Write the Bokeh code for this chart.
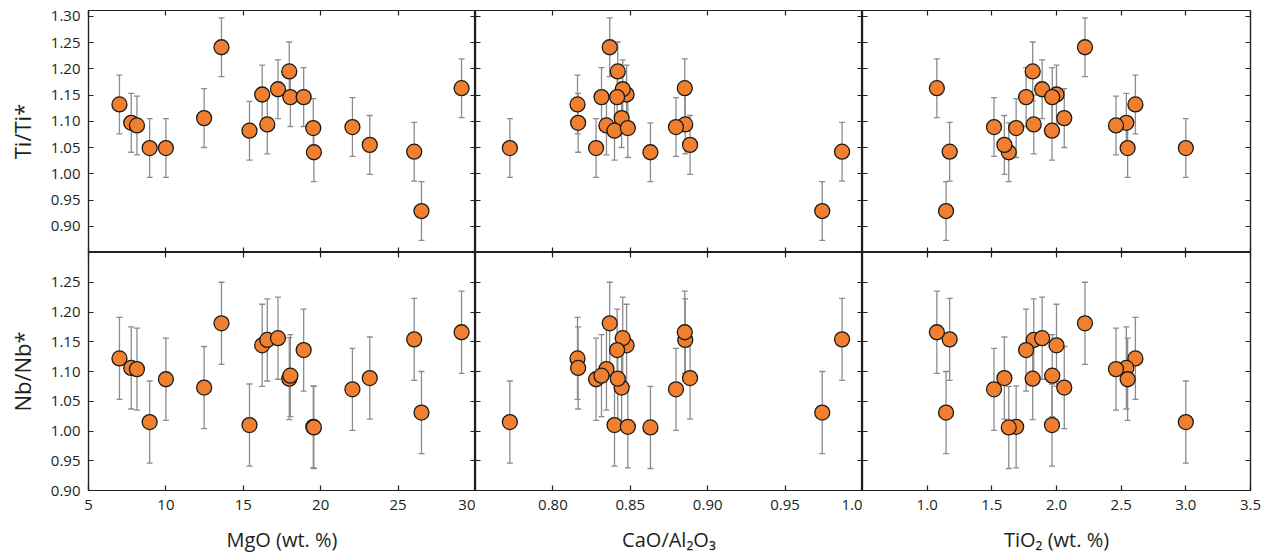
from bokeh.plotting import figure
from bokeh.models import (ColumnDataSource, Whisker, TeeHead, Range1d, LinearAxis,
                          FixedTicker, PrintfTickFormatter)
from bokeh.layouts import column, row
from bokeh.embed import file_html
from bokeh.resources import INLINE

# ---- data (one entry per sample) ----
mgo = [7.00, 7.76, 8.13, 8.95, 10.00, 12.47, 13.59, 15.40, 16.22, 16.55, 17.24,
       17.97, 18.04, 18.90, 19.52, 19.56, 22.05, 23.17, 26.04, 26.51, 29.10]
cao_al2o3 = [0.8159, 0.8163, 0.8346, 0.7722, 0.8279, 0.8444, 0.8367, 0.8398, 0.8476, 0.8855, 0.8451,
             0.8419, 0.8314, 0.8415, 0.8484, 0.8630, 0.8795, 0.8886, 0.9868, 0.9740, 0.8852]
tio2 = [2.61, 2.54, 2.46, 3.00, 2.55, 2.06, 2.22, 1.965, 2.00, 1.824, 1.889,
        1.816, 1.967, 1.765, 1.688, 1.631, 1.517, 1.597, 1.174, 1.146, 1.075]
ti_anom = [1.132, 1.097, 1.092, 1.049, 1.049, 1.106, 1.241, 1.082, 1.151, 1.094, 1.161,
           1.195, 1.146, 1.146, 1.087, 1.041, 1.089, 1.055, 1.042, 0.929, 1.163]
nb_anom = [1.122, 1.106, 1.104, 1.015, 1.087, 1.073, 1.181, 1.010, 1.144, 1.153, 1.156,
           1.088, 1.093, 1.136, 1.007, 1.006, 1.070, 1.089, 1.154, 1.031, 1.166]
ti_err = [0.056, 0.056, 0.056, 0.056, 0.056, 0.056, 0.056, 0.056, 0.056, 0.056, 0.056,
          0.056, 0.056, 0.056, 0.056, 0.056, 0.056, 0.056, 0.056, 0.056, 0.056]
nb_err = [0.069, 0.069, 0.069, 0.069, 0.069, 0.069, 0.069, 0.069, 0.069, 0.069, 0.069,
          0.069, 0.069, 0.069, 0.069, 0.069, 0.069, 0.069, 0.069, 0.069, 0.069]

x_labels = ["MgO (wt. %)", "CaO/Al\u2082O\u2083", "TiO\u2082 (wt. %)"]
y_labels = ["Ti/Ti*", "Nb/Nb*"]

mgo_ticks = [5, 10, 15, 20, 25, 30]
cao_ticks = [0.80, 0.85, 0.90, 0.95, 1.0]
tio2_ticks = [1.0, 1.5, 2.0, 2.5, 3.0, 3.5]
ti_ticks = [0.90, 0.95, 1.00, 1.05, 1.10, 1.15, 1.20, 1.25, 1.30]
nb_ticks = [0.90, 0.95, 1.00, 1.05, 1.10, 1.15, 1.20, 1.25]

src = ColumnDataSource(dict(
    mgo=mgo, cao=cao_al2o3, tio2=tio2, ti=ti_anom, nb=nb_anom,
    ti_lo=[v - e for v, e in zip(ti_anom, ti_err)],
    ti_hi=[v + e for v, e in zip(ti_anom, ti_err)],
    nb_lo=[v - e for v, e in zip(nb_anom, nb_err)],
    nb_hi=[v + e for v, e in zip(nb_anom, nb_err)],
))

FONT = "Open Sans"
FRAME = "#231f20"
ORANGE = "#F0802F"
ERR = "#8c8c8c"

x_ranges = [Range1d(5, 30), Range1d(0.75, 1.0), Range1d(0.5, 3.5)]
x_keys = ["mgo", "cao", "tio2"]
x_tick_sets = [mgo_ticks, cao_ticks, tio2_ticks]
x_formats = [PrintfTickFormatter(format="%d"), PrintfTickFormatter(format="%.2f"),
             PrintfTickFormatter(format="%.1f")]
x_overrides = [{}, {1.0: "1.0"}, {}]

FRAME_W = [387, 387, 388]
FRAME_H = [242, 238]
LEFT_B, RIGHT_B, TOP_B, BOT_B = 88, 20, 10, 67


def style_axis(ax, ticks, show_labels, fmt=None, overrides=None):
    ax.ticker = FixedTicker(ticks=ticks)
    ax.minor_tick_line_color = None
    ax.major_tick_in = 5
    ax.major_tick_out = 0
    ax.axis_line_color = FRAME
    ax.axis_line_width = 1.2
    ax.major_tick_line_color = FRAME
    ax.major_tick_line_width = 1.2
    if fmt is not None:
        ax.formatter = fmt
    if overrides:
        ax.major_label_overrides = overrides
    if show_labels:
        ax.major_label_text_font = FONT
        ax.major_label_text_font_size = "15px"
        ax.major_label_text_color = FRAME
    else:
        ax.major_label_text_font_size = "0px"
        ax.major_label_text_color = None
        ax.major_label_standoff = 0


def make_panel(r, c):
    top = (r == 0)
    y_key = "ti" if top else "nb"
    y_range = Range1d(0.85, 1.311) if top else Range1d(0.90, 1.30)
    y_ticks = ti_ticks if top else nb_ticks
    bl = LEFT_B if c == 0 else 0
    br = RIGHT_B if c == 2 else 0
    bt = TOP_B if top else 0
    bb = 0 if top else BOT_B
    p = figure(width=FRAME_W[c] + bl + br, height=FRAME_H[r] + bt + bb,
               x_range=x_ranges[c], y_range=y_range,
               x_axis_location=None, y_axis_location=None,
               toolbar_location=None, tools="", output_backend="svg",
               min_border_left=bl, min_border_right=br,
               min_border_top=bt, min_border_bottom=bb)
    p.outline_line_color = FRAME
    p.outline_line_width = 1.2
    p.grid.visible = False
    p.background_fill_color = "white"
    p.border_fill_color = "white"

    # axes on all four sides, ticks pointing inward
    bottom = LinearAxis()
    style_axis(bottom, x_tick_sets[c], not top, x_formats[c], x_overrides[c])
    if not top:
        bottom.major_label_standoff = 9
        bottom.axis_label = x_labels[c]
        bottom.axis_label_text_font = FONT
        bottom.axis_label_text_font_size = "20px"
        bottom.axis_label_text_font_style = "normal"
        bottom.axis_label_text_color = FRAME
        bottom.axis_label_standoff = 13
    p.add_layout(bottom, "below")

    above = LinearAxis()
    style_axis(above, x_tick_sets[c], False)
    p.add_layout(above, "above")

    left = LinearAxis()
    style_axis(left, y_ticks, c == 0, PrintfTickFormatter(format="%.2f"))
    if c == 0:
        left.major_label_standoff = 8
        left.axis_label = y_labels[r]
        left.axis_label_text_font = FONT
        left.axis_label_text_font_size = "22px"
        left.axis_label_text_font_style = "normal"
        left.axis_label_text_color = FRAME
        left.axis_label_standoff = 11
    p.add_layout(left, "left")

    right = LinearAxis()
    style_axis(right, y_ticks, False)
    p.add_layout(right, "right")

    lo, hi = (("ti_lo", "ti_hi") if top else ("nb_lo", "nb_hi"))
    w = Whisker(base=x_keys[c], lower=lo, upper=hi, source=src, dimension="height",
                line_color=ERR, line_width=1.3, level="underlay",
                upper_head=TeeHead(size=6, line_color=ERR, line_width=1.3),
                lower_head=TeeHead(size=6, line_color=ERR, line_width=1.3))
    p.add_layout(w)
    p.scatter(x_keys[c], y_key, source=src, size=15, fill_color=ORANGE,
              line_color="#1a1a1a", line_width=1.3)
    return p


rows = []
for r in range(2):
    rows.append(row(*[make_panel(r, c) for c in range(3)], spacing=0))
layout = column(*rows, spacing=0)

open("out.html", "w").write(file_html(layout, INLINE))
